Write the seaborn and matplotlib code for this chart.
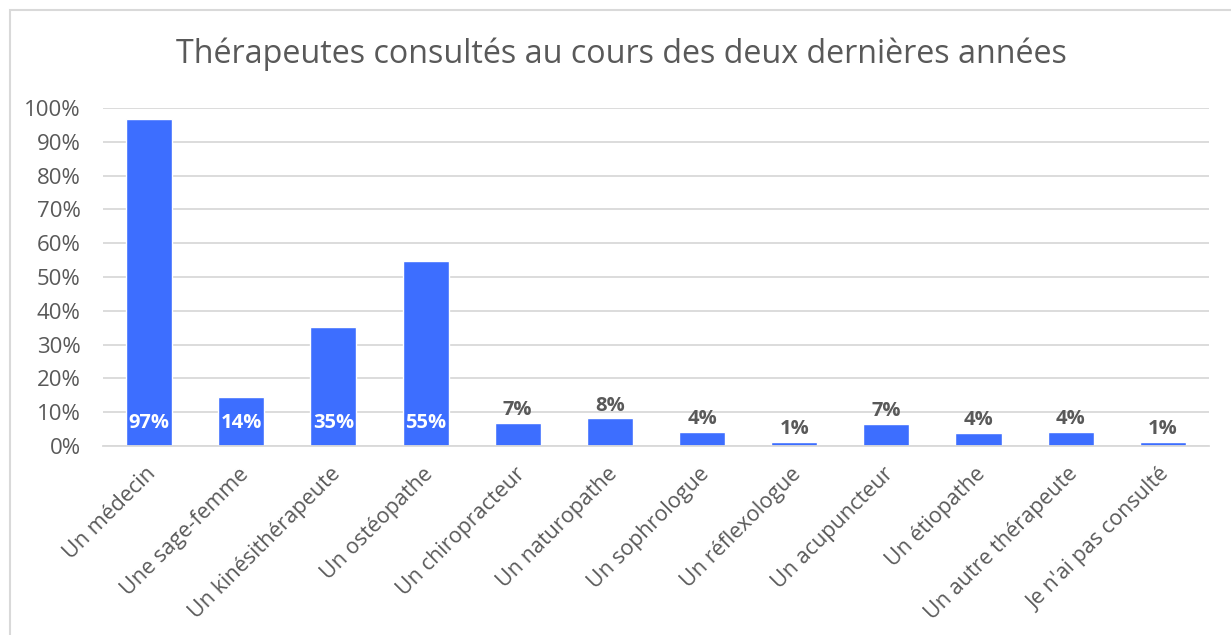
import matplotlib
matplotlib.use("Agg")
import matplotlib.pyplot as plt
import matplotlib.transforms as mtransforms
import seaborn as sns
import pandas as pd
from matplotlib.patches import Rectangle
from matplotlib.ticker import PercentFormatter

# --- DATA ---
categories = ["Un médecin", "Une sage-femme", "Un kinésithérapeute", "Un ostéopathe",
              "Un chiropracteur", "Un naturopathe", "Un sophrologue", "Un réflexologue",
              "Un acupuncteur", "Un étiopathe", "Un autre thérapeute", "Je n'ai pas consulté"]
shares = [0.967, 0.145, 0.352, 0.547, 0.068, 0.082, 0.041, 0.012, 0.065, 0.038, 0.041, 0.012]
labels = ["97%", "14%", "35%", "55%", "7%", "8%", "4%", "1%", "7%", "4%", "4%", "1%"]

df = pd.DataFrame({"cat": categories, "share": shares})

# --- STYLE ---
sns.set_theme(style="white")
plt.rcParams['font.family'] = ['Open Sans', 'DejaVu Sans']
grey = "#595959"
blue = "#3D6EFF"

fig = plt.figure(figsize=(12.31, 6.35), dpi=100)
ax = fig.add_axes([0.0837, 0.2976, 0.8983, 0.5324])

# outer frame like the Excel chart area
fig.patches.append(Rectangle((10 / 1231, -0.01), 1.0, 1 - 10 / 635 + 0.01,
                             transform=fig.transFigure, fill=False,
                             edgecolor="#D9D9D9", linewidth=1.5))

sns.barplot(data=df, x="cat", y="share", color=blue, width=0.5, saturation=1, ax=ax)

ax.set_ylim(0, 1)
ax.set_yticks([i / 10 for i in range(11)])
ax.yaxis.set_major_formatter(PercentFormatter(1.0, decimals=0))
ax.grid(axis="y", color="#D9D9D9", linewidth=1.3)
ax.set_axisbelow(True)
for s in ["top", "right", "left"]:
    ax.spines[s].set_visible(False)
ax.spines["bottom"].set_color("#D9D9D9")
ax.spines["bottom"].set_linewidth(1.3)
ax.tick_params(axis="y", length=0, colors=grey, labelsize=16, pad=16)
ax.tick_params(axis="x", length=0, colors=grey, labelsize=15.5, pad=18)
ax.set_xlabel("")
ax.set_ylabel("")
ax.set_xlim(-0.5, len(categories) - 0.5)

ax.set_xticks(range(len(categories)))
ax.set_xticklabels(categories, rotation=45, ha="right", va="center",
                   rotation_mode="anchor", color=grey)
shift = mtransforms.ScaledTranslation(4 / 100, 0, fig.dpi_scale_trans)
for t in ax.get_xticklabels():
    t.set_transform(t.get_transform() + shift)

# data labels
for i, (v, lab) in enumerate(zip(shares, labels)):
    if v > 0.1:
        ax.text(i, 0.068, lab, ha="center", va="center", color="white",
                fontsize=14.5, fontweight="bold")
    else:
        ax.text(i, v + 0.008, lab, ha="center", va="bottom", color=grey,
                fontsize=14.5, fontweight="bold")

fig.text(0.505, 0.914, "Thérapeutes consultés au cours des deux dernières années",
         ha="center", va="center", fontsize=23.2, color=grey)

fig.savefig("out.png", dpi=100)
